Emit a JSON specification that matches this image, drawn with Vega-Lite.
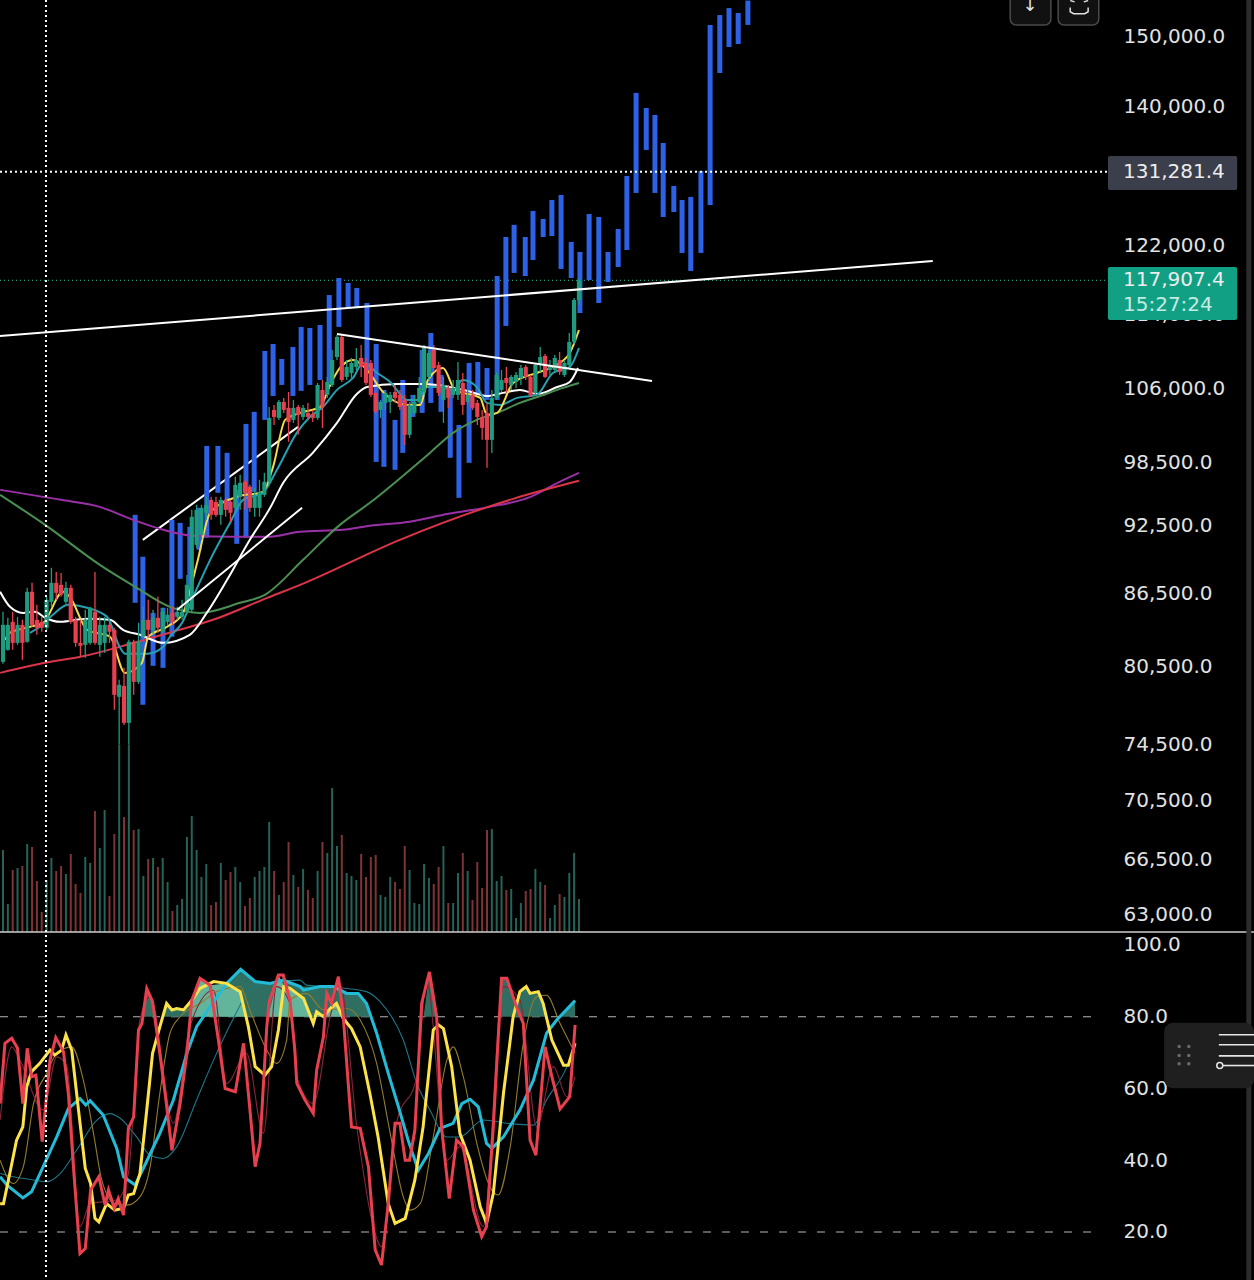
{"$schema":"https://vega.github.io/schema/vega-lite/v6.json","width":1254,"height":1280,"autosize":{"type":"none"},"padding":0,"background":"#000000","config":{"view":{"stroke":null},"axis":{"labelFont":"DejaVu Sans","labelFontSize":20,"labelColor":"#e2e2e2","labelAlign":"left","labelOverlap":false,"labelBound":false,"labelFlush":false}},
"datasets":{
"candles":[
{"i":0,"o":80850,"h":84950,"l":80690,"c":83860,"v":82},{"i":1,"o":81820,"h":84450,"l":81740,"c":83860,"v":28},{"i":2,"o":84110,"h":84950,"l":81820,"c":82380,"v":62},{"i":3,"o":82380,"h":84530,"l":82220,"c":83860,"v":64},{"i":4,"o":83860,"h":84280,"l":81010,"c":82380,"v":66},{"i":5,"o":82470,"h":86990,"l":82380,"c":86650,"v":88},{"i":6,"o":86650,"h":87420,"l":83700,"c":83860,"v":85},{"i":7,"o":84280,"h":85540,"l":83040,"c":83620,"v":51},{"i":8,"o":84110,"h":84530,"l":83290,"c":83620,"v":20},{"i":9,"o":83620,"h":86220,"l":83450,"c":85960,"v":52},
{"i":10,"o":85790,"h":88730,"l":85370,"c":87420,"v":74},{"i":11,"o":87420,"h":88370,"l":85960,"c":86560,"v":61},{"i":12,"o":87250,"h":88280,"l":86220,"c":86390,"v":66},{"i":13,"o":85790,"h":87510,"l":85620,"c":86990,"v":58},{"i":14,"o":86990,"h":87250,"l":83950,"c":84110,"v":78},{"i":15,"o":84280,"h":84530,"l":82060,"c":82380,"v":48},{"i":16,"o":82380,"h":84280,"l":81250,"c":82140,"v":39},{"i":17,"o":82220,"h":85120,"l":81170,"c":84280,"v":75},{"i":18,"o":82380,"h":85370,"l":82220,"c":85290,"v":69},{"i":19,"o":84950,"h":88370,"l":82220,"c":82380,"v":121},
{"i":20,"o":82220,"h":84530,"l":81250,"c":83860,"v":84},{"i":21,"o":82380,"h":84530,"l":81570,"c":83860,"v":122},{"i":22,"o":83860,"h":84110,"l":82380,"c":83290,"v":36},{"i":23,"o":83450,"h":83620,"l":77100,"c":78250,"v":98},{"i":24,"o":78100,"h":79420,"l":74480,"c":79030,"v":187},{"i":25,"o":78950,"h":80370,"l":75960,"c":76110,"v":115},{"i":26,"o":76110,"h":82630,"l":74480,"c":82470,"v":187},{"i":27,"o":82470,"h":82630,"l":78250,"c":79260,"v":102},{"i":28,"o":79260,"h":84030,"l":79100,"c":82470,"v":103},{"i":29,"o":82880,"h":85370,"l":82630,"c":84280,"v":56},
{"i":30,"o":84280,"h":85960,"l":82790,"c":83450,"v":73},{"i":31,"o":83450,"h":85120,"l":83120,"c":84450,"v":74},{"i":32,"o":84450,"h":86220,"l":83200,"c":83620,"v":65},{"i":33,"o":83290,"h":85290,"l":83120,"c":84950,"v":74},{"i":34,"o":84110,"h":85290,"l":83860,"c":84700,"v":50},{"i":35,"o":84860,"h":85370,"l":83860,"c":84110,"v":21},{"i":36,"o":84530,"h":85370,"l":84280,"c":84950,"v":27},{"i":37,"o":84530,"h":85960,"l":84280,"c":84950,"v":33},{"i":38,"o":84950,"h":88110,"l":84780,"c":87250,"v":95},{"i":39,"o":85120,"h":93970,"l":84950,"c":93320,"v":116},
{"i":40,"o":90770,"h":94430,"l":90500,"c":93970,"v":82},{"i":41,"o":91670,"h":94430,"l":91220,"c":94150,"v":55},{"i":42,"o":93690,"h":95180,"l":93040,"c":94430,"v":68},{"i":43,"o":94900,"h":95180,"l":93040,"c":93500,"v":27},{"i":44,"o":94710,"h":95180,"l":93320,"c":93500,"v":30},{"i":45,"o":93500,"h":95180,"l":92580,"c":94900,"v":69},{"i":46,"o":94900,"h":95090,"l":93320,"c":93970,"v":52},{"i":47,"o":94710,"h":94900,"l":92860,"c":93690,"v":60},{"i":48,"o":94150,"h":97090,"l":93970,"c":96320,"v":65},{"i":49,"o":95180,"h":97280,"l":93970,"c":96510,"v":50},
{"i":50,"o":96610,"h":96800,"l":93970,"c":95560,"v":26},{"i":51,"o":96130,"h":96320,"l":93780,"c":94150,"v":34},{"i":52,"o":94150,"h":96030,"l":93320,"c":95180,"v":55},{"i":53,"o":94150,"h":96800,"l":93320,"c":95650,"v":61},{"i":54,"o":95370,"h":97470,"l":95180,"c":96610,"v":65},{"i":55,"o":96610,"h":104030,"l":96320,"c":102910,"v":110},{"i":56,"o":103730,"h":104240,"l":102200,"c":103010,"v":61},{"i":57,"o":102910,"h":104760,"l":102710,"c":104550,"v":37},{"i":58,"o":104550,"h":104970,"l":103420,"c":103730,"v":50},{"i":59,"o":103940,"h":105590,"l":100500,"c":102500,"v":90},
{"i":60,"o":102710,"h":104760,"l":102400,"c":103940,"v":57},{"i":61,"o":104030,"h":104240,"l":101200,"c":103220,"v":45},{"i":62,"o":103010,"h":104240,"l":102710,"c":103940,"v":63},{"i":63,"o":103420,"h":104450,"l":102710,"c":103010,"v":42},{"i":64,"o":103320,"h":103730,"l":102500,"c":102910,"v":34},{"i":65,"o":102910,"h":106530,"l":102710,"c":106320,"v":61},{"i":66,"o":105800,"h":106850,"l":101900,"c":104030,"v":90},{"i":67,"o":105280,"h":107170,"l":104970,"c":106640,"v":79},{"i":68,"o":106320,"h":110060,"l":106110,"c":108980,"v":144},{"i":69,"o":109300,"h":111710,"l":108980,"c":111490,"v":86},
{"i":70,"o":111490,"h":111710,"l":106640,"c":106850,"v":97},{"i":71,"o":107170,"h":108980,"l":106850,"c":108230,"v":59},{"i":72,"o":107590,"h":109200,"l":107060,"c":108660,"v":56},{"i":73,"o":108230,"h":110280,"l":107910,"c":108980,"v":52},{"i":74,"o":109200,"h":110610,"l":107170,"c":108230,"v":78},{"i":75,"o":108660,"h":109200,"l":106320,"c":106530,"v":55},{"i":76,"o":108660,"h":108980,"l":105070,"c":105280,"v":75},{"i":77,"o":105490,"h":105700,"l":103320,"c":103530,"v":77},{"i":78,"o":103730,"h":104760,"l":102910,"c":104550,"v":37},{"i":79,"o":104450,"h":105700,"l":103730,"c":105490,"v":35},
{"i":80,"o":104550,"h":105590,"l":103420,"c":105280,"v":55},{"i":81,"o":105590,"h":106320,"l":104550,"c":104970,"v":50},{"i":82,"o":105280,"h":105800,"l":103730,"c":104030,"v":43},{"i":83,"o":104760,"h":105280,"l":100200,"c":101200,"v":86},{"i":84,"o":101200,"h":104550,"l":100900,"c":104240,"v":62},{"i":85,"o":103420,"h":105280,"l":103220,"c":104550,"v":29},{"i":86,"o":104550,"h":107170,"l":104340,"c":106010,"v":28},{"i":87,"o":105590,"h":110610,"l":105280,"c":110280,"v":68},{"i":88,"o":107170,"h":110060,"l":106850,"c":109740,"v":54},{"i":89,"o":110060,"h":110610,"l":107700,"c":108120,"v":48},
{"i":90,"o":108440,"h":108770,"l":105180,"c":105490,"v":65},{"i":91,"o":104760,"h":107170,"l":102400,"c":106320,"v":86},{"i":92,"o":106010,"h":106320,"l":103940,"c":104970,"v":29},{"i":93,"o":105280,"h":106850,"l":104970,"c":106010,"v":29},{"i":94,"o":105280,"h":108770,"l":104760,"c":106850,"v":59},{"i":95,"o":106530,"h":107590,"l":103220,"c":104240,"v":79},{"i":96,"o":104550,"h":105800,"l":104240,"c":105280,"v":61},{"i":97,"o":105280,"h":105800,"l":103730,"c":103940,"v":32},{"i":98,"o":104450,"h":104760,"l":102200,"c":103010,"v":70},{"i":99,"o":103010,"h":103730,"l":100700,"c":101900,"v":44},
{"i":100,"o":103420,"h":104450,"l":97950,"c":100700,"v":102},{"i":101,"o":100700,"h":105800,"l":99410,"c":104970,"v":103},{"i":102,"o":104970,"h":107700,"l":104760,"c":107380,"v":51},{"i":103,"o":105800,"h":107910,"l":105590,"c":106850,"v":56},{"i":104,"o":107060,"h":108230,"l":105490,"c":106530,"v":42},{"i":105,"o":106320,"h":107380,"l":105800,"c":107170,"v":43},{"i":106,"o":106640,"h":107700,"l":106010,"c":107380,"v":14},{"i":107,"o":107060,"h":108440,"l":106320,"c":108120,"v":29},{"i":108,"o":108230,"h":108440,"l":106850,"c":107170,"v":41},{"i":109,"o":107170,"h":107380,"l":105070,"c":105280,"v":43},
{"i":110,"o":105490,"h":108660,"l":105180,"c":108440,"v":63},{"i":111,"o":108440,"h":110390,"l":107700,"c":109300,"v":50},{"i":112,"o":109410,"h":109630,"l":107060,"c":107170,"v":47},{"i":113,"o":107910,"h":108980,"l":107380,"c":108440,"v":14},{"i":114,"o":107910,"h":109520,"l":107700,"c":109200,"v":27},{"i":115,"o":108980,"h":109850,"l":107380,"c":107700,"v":38},{"i":116,"o":107380,"h":108980,"l":107170,"c":108660,"v":35},{"i":117,"o":108440,"h":111930,"l":108120,"c":110940,"v":59},{"i":118,"o":110940,"h":115870,"l":110720,"c":115640,"v":79},{"i":119,"o":115640,"h":118180,"l":115070,"c":117907.4,"v":33}],
"blue":[
{"i":27.3,"t":93500,"b":85710},{"i":28.9,"t":89700,"b":77480},{"i":31,"t":84860,"b":80530},{"i":33.06,"t":85290,"b":80370},{"i":34.9,"t":93040,"b":82880},{"i":36.6,"t":92760,"b":87770},{"i":38.6,"t":92400,"b":86820},{"i":40.5,"t":94150,"b":90320},{"i":42.1,"t":100100,"b":91400},{"i":44.4,"t":100100,"b":95560},{"i":46.3,"t":99420,"b":93970},{"i":48.3,"t":95840,"b":90860},{"i":50.2,"t":102300,"b":91400},{"i":51.9,"t":103530,"b":95650},{"i":54.1,"t":109950,"b":102710},{"i":55.8,"t":110720,"b":105170},{"i":57.6,"t":109090,"b":106320},{"i":59.9,"t":110390,"b":105170},{"i":61.6,"t":112600,"b":105700},{"i":63.4,"t":112480,"b":106320},{"i":65.5,"t":112820,"b":106850},{"i":67.4,"t":116210,"b":106530},{"i":69.4,"t":118180,"b":112600},{"i":71.3,"t":117600,"b":114840},{"i":73.1,"t":117020,"b":114730},{"i":75.2,"t":115300,"b":107910},{"i":77.1,"t":110720,"b":98530},{"i":78.7,"t":105800,"b":98050},{"i":81,"t":102710,"b":97760},{"i":82.6,"t":106850,"b":99410},{"i":84.7,"t":105280,"b":103010},{"i":86.6,"t":110060,"b":103420},{"i":88.4,"t":111930,"b":104450},{"i":90.5,"t":107380,"b":103530},{"i":92.4,"t":105800,"b":98930},{"i":94.2,"t":102200,"b":95090},{"i":96.3,"t":108660,"b":98440},{"i":98.1,"t":108770,"b":105280},{"i":100,"t":108120,"b":104760},{"i":102.1,"t":118420,"b":104760},{"i":103.9,"t":123080,"b":112710},{"i":105.6,"t":124570,"b":118780},{"i":107.9,"t":123080,"b":118420},{"i":109.5,"t":126290,"b":120310},{"i":111.6,"t":125290,"b":123080},{"i":113.4,"t":127670,"b":123200},{"i":115.3,"t":128300,"b":119250},{"i":117.4,"t":122480,"b":118190},{"i":119.2,"t":121270,"b":114160},{"i":121.1,"t":125910,"b":117950},{"i":123.1,"t":125540,"b":115300},{"i":125,"t":121270,"b":117720},{"i":127.1,"t":124060,"b":119480},{"i":128.9,"t":130740,"b":121510},{"i":130.8,"t":141930,"b":128560},{"i":132.9,"t":139830,"b":134140},{"i":134.7,"t":138870,"b":128560},{"i":136.4,"t":135070,"b":125540},{"i":138.6,"t":129450,"b":126160},{"i":140.3,"t":127670,"b":121150},{"i":142.1,"t":128050,"b":119010},{"i":144.2,"t":131380,"b":121150},{"i":146.1,"t":151800,"b":127040},{"i":148.1,"t":153290,"b":144750},{"i":150,"t":154350,"b":148520},{"i":151.9,"t":153600,"b":148960},{"i":153.9,"t":155500,"b":151800}],
"ma":[
{"s":"purple","i":-0.6,"p":95840},{"s":"purple","i":12,"p":94900},{"s":"purple","i":20,"p":94240},{"s":"purple","i":26.9,"p":93040},{"s":"purple","i":33.1,"p":92130},{"s":"purple","i":39.3,"p":91580},{"s":"purple","i":47.5,"p":91490},{"s":"purple","i":54.6,"p":91490},{"s":"purple","i":61.4,"p":91950},{"s":"purple","i":70.3,"p":92130},{"s":"purple","i":75.8,"p":92490},{"s":"purple","i":84,"p":92860},{"s":"purple","i":92,"p":93600},{"s":"purple","i":100.6,"p":94240},{"s":"purple","i":109,"p":95180},{"s":"purple","i":115,"p":96610},{"s":"purple","i":119,"p":97470},
{"s":"green","i":-0.6,"p":95370},{"s":"green","i":8.7,"p":92580},{"s":"green","i":20,"p":88990},{"s":"green","i":27.3,"p":87080},{"s":"green","i":34.5,"p":85370},{"s":"green","i":40.7,"p":84860},{"s":"green","i":49,"p":85710},{"s":"green","i":54.1,"p":86390},{"s":"green","i":62,"p":89430},{"s":"green","i":69.6,"p":92580},{"s":"green","i":75.8,"p":94620},{"s":"green","i":88.2,"p":99410},{"s":"green","i":93,"p":101400},{"s":"green","i":97.9,"p":102710},{"s":"green","i":102.1,"p":103420},{"s":"green","i":106.8,"p":104450},{"s":"green","i":111,"p":105170},{"s":"green","i":115.7,"p":106010},{"s":"green","i":119,"p":106530},
{"s":"red","i":-0.6,"p":79970},{"s":"red","i":8.7,"p":80770},{"s":"red","i":16,"p":81250},{"s":"red","i":25.6,"p":82220},{"s":"red","i":35.1,"p":83290},{"s":"red","i":43.4,"p":84280},{"s":"red","i":54.6,"p":86130},{"s":"red","i":61.4,"p":87250},{"s":"red","i":82,"p":91220},{"s":"red","i":99.6,"p":94150},{"s":"red","i":105.4,"p":94990},{"s":"red","i":119,"p":96700},
{"s":"white","i":-0.6,"p":86650},{"s":"white","i":1.45,"p":85370},{"s":"white","i":4.1,"p":84860},{"s":"white","i":6.6,"p":84950},{"s":"white","i":8.7,"p":84450},{"s":"white","i":11.8,"p":84110},{"s":"white","i":17.4,"p":84360},{"s":"white","i":22.1,"p":84280},{"s":"white","i":24.8,"p":83450},{"s":"white","i":28.3,"p":83040},{"s":"white","i":33.1,"p":82380},{"s":"white","i":38.6,"p":83040},{"s":"white","i":42.1,"p":84860},{"s":"white","i":46.3,"p":87680},{"s":"white","i":51,"p":91220},{"s":"white","i":55.2,"p":94150},{"s":"white","i":57.9,"p":96510},{"s":"white","i":64,"p":99410},{"s":"white","i":69,"p":102400},{"s":"white","i":73.1,"p":105380},{"s":"white","i":75.2,"p":106110},{"s":"white","i":81.4,"p":106420},{"s":"white","i":86.2,"p":106420},{"s":"white","i":89.7,"p":106320},{"s":"white","i":95.9,"p":105700},{"s":"white","i":100,"p":105170},{"s":"white","i":103.3,"p":105490},{"s":"white","i":106.8,"p":105800},{"s":"white","i":110.3,"p":105380},{"s":"white","i":114.5,"p":106110},{"s":"white","i":117.1,"p":106640},{"s":"white","i":118.8,"p":108120},
{"s":"teal","i":5.6,"p":83200},{"s":"teal","i":7.6,"p":83700},{"s":"teal","i":10.3,"p":84700},{"s":"teal","i":13.4,"p":85540},{"s":"teal","i":17.4,"p":85290},{"s":"teal","i":21.5,"p":84530},{"s":"teal","i":24.2,"p":81980},{"s":"teal","i":25.2,"p":81490},{"s":"teal","i":29.8,"p":81490},{"s":"teal","i":33.1,"p":82060},{"s":"teal","i":34.5,"p":82880},{"s":"teal","i":37,"p":84030},{"s":"teal","i":39.3,"p":86220},{"s":"teal","i":42.8,"p":89430},{"s":"teal","i":46.9,"p":92760},{"s":"teal","i":49.6,"p":94900},{"s":"teal","i":53.7,"p":95560},{"s":"teal","i":56.6,"p":97760},{"s":"teal","i":60.7,"p":101400},{"s":"teal","i":63.4,"p":103010},{"s":"teal","i":66.1,"p":104030},{"s":"teal","i":69,"p":105800},{"s":"teal","i":72.3,"p":107060},{"s":"teal","i":74.4,"p":108660},{"s":"teal","i":77.3,"p":107590},{"s":"teal","i":80,"p":106640},{"s":"teal","i":83.5,"p":104760},{"s":"teal","i":85.5,"p":104760},{"s":"teal","i":87.6,"p":106110},{"s":"teal","i":90.3,"p":106110},{"s":"teal","i":93,"p":105800},{"s":"teal","i":95,"p":106850},{"s":"teal","i":97.9,"p":106110},{"s":"teal","i":100,"p":104450},{"s":"teal","i":102.7,"p":104240},{"s":"teal","i":106.2,"p":104970},{"s":"teal","i":110.3,"p":105280},{"s":"teal","i":113.6,"p":107590},{"s":"teal","i":117.1,"p":108230},{"s":"teal","i":119,"p":110280},
{"s":"yellow","i":0.4,"p":82630},{"s":"yellow","i":1.4,"p":83200},{"s":"yellow","i":5.6,"p":83700},{"s":"yellow","i":8.3,"p":84030},{"s":"yellow","i":12.4,"p":86650},{"s":"yellow","i":13.8,"p":86220},{"s":"yellow","i":17.4,"p":83450},{"s":"yellow","i":22.1,"p":82880},{"s":"yellow","i":25.2,"p":79970},{"s":"yellow","i":28.7,"p":80770},{"s":"yellow","i":30,"p":82880},{"s":"yellow","i":33.9,"p":83700},{"s":"yellow","i":37.2,"p":84860},{"s":"yellow","i":40.1,"p":89160},{"s":"yellow","i":42.8,"p":93690},{"s":"yellow","i":48.3,"p":95180},{"s":"yellow","i":53.7,"p":95650},{"s":"yellow","i":55.8,"p":98050},{"s":"yellow","i":58.3,"p":102710},{"s":"yellow","i":61.4,"p":103420},{"s":"yellow","i":65.5,"p":104030},{"s":"yellow","i":67.6,"p":106320},{"s":"yellow","i":69.6,"p":108120},{"s":"yellow","i":72.3,"p":108980},{"s":"yellow","i":75.2,"p":107910},{"s":"yellow","i":78.5,"p":105590},{"s":"yellow","i":83.5,"p":104240},{"s":"yellow","i":86.2,"p":104240},{"s":"yellow","i":87.8,"p":106850},{"s":"yellow","i":90.9,"p":108120},{"s":"yellow","i":93.4,"p":105800},{"s":"yellow","i":98.6,"p":104970},{"s":"yellow","i":100,"p":103220},{"s":"yellow","i":102.1,"p":103420},{"s":"yellow","i":105.4,"p":106530},{"s":"yellow","i":110.3,"p":107590},{"s":"yellow","i":113.6,"p":108230},{"s":"yellow","i":117.1,"p":109740},{"s":"yellow","i":119,"p":112260}],
"channel":[{"i":28.9,"p":91220},{"i":60.95,"p":102000}],
"trend":[{"s":"a","i":-0.62,"p":111600},{"s":"a","i":192.1,"p":120190},{"s":"b","i":69,"p":111820},{"s":"b","i":134.1,"p":106740},{"s":"d","i":36,"p":85120},{"s":"d","i":61.8,"p":94160}],
"levels":[{"p":131281.4,"i":-0.62,"e":228.3}],
"live":[{"p":117907.4,"i":-0.62,"e":228.3}],
"tagGrey":[{"i":228.3,"e":255,"t":133350,"b":128940}],
"tagGreen":[{"i":228.3,"e":255,"t":119480,"b":113380}],
"tagText":[{"i":231.4,"p":131281.4,"t":"131,281.4"},{"i":231.4,"p":117907.4,"t":"117,907.4"}],
"tagTime":[{"i":231.4,"p":115070,"t":"15:27:24"}],
"buttons":[{"i":208.1,"e":216.5,"t":156500,"b":151800},{"i":218,"e":226.4,"t":156500,"b":151800}],
"glyphArrow":[{"i":212.2,"p":154700,"t":"↓"}],
"glyphFrame":[{"s":"a","i":220.5,"p":154450},{"s":"a","i":220.5,"p":153800},{"s":"a","i":221.2,"p":153500},{"s":"a","i":223.5,"p":153500},{"s":"a","i":224.2,"p":153800},{"s":"a","i":224.2,"p":154450},{"s":"b","i":220.5,"p":155500},{"s":"b","i":221.4,"p":155300},{"s":"c","i":223.3,"p":155300},{"s":"c","i":224.2,"p":155500}],
"edge":[{"t":127670,"b":125000,"k":"g"},{"t":121510,"b":118890,"k":"g"},{"t":115640,"b":112260,"k":"g"},{"t":104240,"b":102200,"k":"r"},{"t":92580,"b":91220,"k":"o"},{"t":88990,"b":87250,"k":"r"},{"t":80610,"b":78640,"k":"o"}],
"fillDark":[{"b":"a","i":33.2,"v":80},{"b":"a","i":33.8,"v":83.7},{"b":"a","i":34.9,"v":81.9},{"b":"a","i":35.9,"v":82.3},{"b":"a","i":37.3,"v":81.9},{"b":"a","i":39,"v":84.6},{"b":"a","i":41,"v":87},{"b":"a","i":46.2,"v":89.3},{"b":"a","i":49.1,"v":93.2},{"b":"a","i":52.1,"v":89.8},{"b":"a","i":55.2,"v":89.3},{"b":"a","i":57.9,"v":90.2},{"b":"a","i":61.4,"v":88.4},{"b":"a","i":65.5,"v":88.4},{"b":"a","i":68.3,"v":88.4},{"b":"a","i":71,"v":86.5},{"b":"a","i":73.4,"v":86.5},{"b":"a","i":75.1,"v":83.7},{"b":"a","i":76,"v":80},
{"b":"b","i":102.7,"v":80},{"b":"b","i":103,"v":90.7},{"b":"b","i":104.1,"v":90.7},{"b":"b","i":106.1,"v":82.8},{"b":"b","i":106.8,"v":87},{"b":"b","i":108.1,"v":88.4},{"b":"b","i":108.9,"v":86.5},{"b":"b","i":110.6,"v":87},{"b":"b","i":111.6,"v":83.7},{"b":"b","i":112.5,"v":80},
{"b":"c","i":114.8,"v":80},{"b":"c","i":118.2,"v":84.5},
{"b":"d","i":86.9,"v":80},{"b":"d","i":88.1,"v":92.5},{"b":"d","i":89.6,"v":80},
{"b":"e","i":28.7,"v":80},{"b":"e","i":29.7,"v":87.9},{"b":"e","i":30.9,"v":84.2},{"b":"e","i":31.8,"v":80}],
"fillLight":[{"b":"a","i":38.5,"v":80},{"b":"a","i":39,"v":84.6},{"b":"a","i":40.7,"v":90.7},{"b":"a","i":42.8,"v":88.8},{"b":"a","i":46.2,"v":89.3},{"b":"a","i":49,"v":87},{"b":"a","i":50.3,"v":80},
{"b":"b","i":54.8,"v":80},{"b":"b","i":56.9,"v":91.6},{"b":"b","i":57.9,"v":89},{"b":"b","i":60.7,"v":86.5},{"b":"b","i":62.1,"v":85.1},{"b":"b","i":64,"v":80},
{"b":"c","i":64.4,"v":80},{"b":"c","i":64.8,"v":81.4},{"b":"c","i":66.2,"v":80},
{"b":"d","i":66.7,"v":80},{"b":"d","i":67.9,"v":83.7},{"b":"d","i":68.9,"v":83.7},{"b":"d","i":70.3,"v":80}],
"thin":[
{"s":"slow","i":-0.6,"v":36.3},{"s":"slow","i":2.1,"v":35.4},{"s":"slow","i":6.3,"v":34.5},{"s":"slow","i":9,"v":34},{"s":"slow","i":11.8,"v":36.3},{"s":"slow","i":15.2,"v":42.8},{"s":"slow","i":19.4,"v":51.2},{"s":"slow","i":22.1,"v":53},{"s":"slow","i":24.2,"v":51.7},{"s":"slow","i":27.6,"v":46.5},{"s":"slow","i":30.4,"v":41.4},{"s":"slow","i":33.1,"v":40.5},{"s":"slow","i":35.9,"v":43.8},{"s":"slow","i":40,"v":56.8},{"s":"slow","i":43.5,"v":67.9},{"s":"slow","i":47.6,"v":79.5},{"s":"slow","i":51,"v":87.4},{"s":"slow","i":54.5,"v":89.3},{"s":"slow","i":61.4,"v":90.2},{"s":"slow","i":62.7,"v":88.8},{"s":"slow","i":66.9,"v":88.4},{"s":"slow","i":75.1,"v":87},{"s":"slow","i":77.9,"v":84.2},{"s":"slow","i":82.7,"v":73.5},{"s":"slow","i":85.5,"v":61.4},{"s":"slow","i":88.2,"v":54},{"s":"slow","i":91.7,"v":46.5},{"s":"slow","i":94.4,"v":46.5},{"s":"slow","i":99.2,"v":51.2},{"s":"slow","i":104.1,"v":50.3},{"s":"slow","i":109.6,"v":49.8},{"s":"slow","i":112.3,"v":56.8},{"s":"slow","i":116.5,"v":66.1},{"s":"slow","i":118.2,"v":72.6},
{"s":"kma","i":-0.6,"v":40},{"s":"kma","i":2.1,"v":33.5},{"s":"kma","i":4.2,"v":38.2},{"s":"kma","i":6.3,"v":55.8},{"s":"kma","i":9,"v":64.2},{"s":"kma","i":11.1,"v":69.8},{"s":"kma","i":14.2,"v":71.6},{"s":"kma","i":16.6,"v":62.3},{"s":"kma","i":18.7,"v":47.5},{"s":"kma","i":20.4,"v":34.5},{"s":"kma","i":23.1,"v":27.9},{"s":"kma","i":25.6,"v":27.5},{"s":"kma","i":28.3,"v":29.8},{"s":"kma","i":30.4,"v":38.2},{"s":"kma","i":32.4,"v":58.6},{"s":"kma","i":34.5,"v":75.4},{"s":"kma","i":36.6,"v":80},{"s":"kma","i":40.7,"v":83.7},{"s":"kma","i":44.8,"v":87.4},{"s":"kma","i":49,"v":88.4},{"s":"kma","i":51,"v":81.9},{"s":"kma","i":54.5,"v":70.7},{"s":"kma","i":56.5,"v":67},{"s":"kma","i":58.6,"v":73.5},{"s":"kma","i":59.3,"v":84.6},{"s":"kma","i":62.7,"v":86.5},{"s":"kma","i":66.2,"v":81.9},{"s":"kma","i":71,"v":82.3},{"s":"kma","i":73.8,"v":79.1},{"s":"kma","i":77.2,"v":67},{"s":"kma","i":80,"v":47.5},{"s":"kma","i":82.7,"v":29.8},{"s":"kma","i":84.1,"v":26.1},{"s":"kma","i":86.2,"v":27.9},{"s":"kma","i":88.9,"v":46.5},{"s":"kma","i":91.7,"v":67.9},{"s":"kma","i":93,"v":71.6},{"s":"kma","i":95.1,"v":63.3},{"s":"kma","i":97.9,"v":44.7},{"s":"kma","i":100.6,"v":32.6},{"s":"kma","i":102.3,"v":30.3},{"s":"kma","i":104.8,"v":43.8},{"s":"kma","i":107.5,"v":72.6},{"s":"kma","i":110.3,"v":85.6},{"s":"kma","i":112.3,"v":86},{"s":"kma","i":115.1,"v":78.1},{"s":"kma","i":118.2,"v":69.8},
{"s":"dma","i":-0.6,"v":51.2},{"s":"dma","i":1.8,"v":71.6},{"s":"dma","i":3.5,"v":67.9},{"s":"dma","i":8.3,"v":54},{"s":"dma","i":11.1,"v":68.8},{"s":"dma","i":13.2,"v":66.1},{"s":"dma","i":15.9,"v":21.5},{"s":"dma","i":18,"v":27.9},{"s":"dma","i":23.5,"v":28.9},{"s":"dma","i":25.9,"v":36.3},{"s":"dma","i":28.3,"v":79.1},{"s":"dma","i":30.4,"v":85.6},{"s":"dma","i":35.2,"v":50.3},{"s":"dma","i":38.6,"v":77.2},{"s":"dma","i":43.5,"v":87.4},{"s":"dma","i":46.2,"v":61.4},{"s":"dma","i":50.3,"v":69.8},{"s":"dma","i":53.8,"v":47.5},{"s":"dma","i":56.5,"v":88.4},{"s":"dma","i":59.3,"v":83.7},{"s":"dma","i":60.7,"v":63.3},{"s":"dma","i":64.1,"v":55.8},{"s":"dma","i":67.6,"v":80},{"s":"dma","i":69.6,"v":89.3},{"s":"dma","i":73.1,"v":49.3},{"s":"dma","i":76.5,"v":21.5},{"s":"dma","i":78.2,"v":15.9},{"s":"dma","i":81.3,"v":50.3},{"s":"dma","i":85.5,"v":63.3},{"s":"dma","i":87.5,"v":90.2},{"s":"dma","i":91.7,"v":40},{"s":"dma","i":94.4,"v":43.8},{"s":"dma","i":99.2,"v":21.5},{"s":"dma","i":103.4,"v":88.4},{"s":"dma","i":106.8,"v":84.6},{"s":"dma","i":110.3,"v":49.3},{"s":"dma","i":113.7,"v":66.1},{"s":"dma","i":116.5,"v":57.7},{"s":"dma","i":118.2,"v":63.3}],
"thick":[
{"s":"rsi","i":-0.6,"v":35.4},{"s":"rsi","i":0.8,"v":33.1},{"s":"rsi","i":4.1,"v":29.5},{"s":"rsi","i":5.9,"v":31.2},{"s":"rsi","i":8.3,"v":38.2},{"s":"rsi","i":11.1,"v":46.5},{"s":"rsi","i":13.5,"v":54.4},{"s":"rsi","i":15.9,"v":57.2},{"s":"rsi","i":17.1,"v":55.4},{"s":"rsi","i":18,"v":56.6},{"s":"rsi","i":20.7,"v":52.6},{"s":"rsi","i":23.5,"v":43.3},{"s":"rsi","i":24.9,"v":35.4},{"s":"rsi","i":27.3,"v":33.1},{"s":"rsi","i":29.3,"v":38.6},{"s":"rsi","i":32.4,"v":47.5},{"s":"rsi","i":35.2,"v":56.8},{"s":"rsi","i":38,"v":69.8},{"s":"rsi","i":40,"v":77.2},{"s":"rsi","i":42.8,"v":82.8},{"s":"rsi","i":46.2,"v":89.3},{"s":"rsi","i":49.1,"v":93.2},{"s":"rsi","i":52.1,"v":89.8},{"s":"rsi","i":55.2,"v":89.3},{"s":"rsi","i":57.9,"v":90.2},{"s":"rsi","i":61.4,"v":88.4},{"s":"rsi","i":62.1,"v":87.4},{"s":"rsi","i":65.5,"v":88.4},{"s":"rsi","i":68.3,"v":88.4},{"s":"rsi","i":71,"v":86.5},{"s":"rsi","i":73.4,"v":86.5},{"s":"rsi","i":75.1,"v":83.7},{"s":"rsi","i":77.2,"v":75.4},{"s":"rsi","i":79.6,"v":64.2},{"s":"rsi","i":81.7,"v":54.9},{"s":"rsi","i":83.7,"v":45.6},{"s":"rsi","i":85.8,"v":37.2},{"s":"rsi","i":87.9,"v":41.9},{"s":"rsi","i":90.3,"v":48.9},{"s":"rsi","i":93,"v":50.3},{"s":"rsi","i":94.8,"v":55.8},{"s":"rsi","i":96.5,"v":57},{"s":"rsi","i":98.2,"v":54.9},{"s":"rsi","i":99.9,"v":44.7},{"s":"rsi","i":101,"v":43.3},{"s":"rsi","i":103.4,"v":46.5},{"s":"rsi","i":106.8,"v":54},{"s":"rsi","i":109.6,"v":62.3},{"s":"rsi","i":112.3,"v":75.4},{"s":"rsi","i":114.4,"v":79.1},{"s":"rsi","i":118.2,"v":84.5},
{"s":"k","i":-0.6,"v":27.9},{"s":"k","i":0.1,"v":27.9},{"s":"k","i":1.4,"v":36.3},{"s":"k","i":2.8,"v":45.6},{"s":"k","i":4.1,"v":49.3},{"s":"k","i":4.9,"v":60.5},{"s":"k","i":5.9,"v":64.7},{"s":"k","i":7.6,"v":67},{"s":"k","i":9.7,"v":70.7},{"s":"k","i":10.7,"v":69.3},{"s":"k","i":12.1,"v":70.7},{"s":"k","i":13,"v":74.9},{"s":"k","i":14.2,"v":70.7},{"s":"k","i":15.6,"v":54},{"s":"k","i":17,"v":37.7},{"s":"k","i":18.1,"v":33.5},{"s":"k","i":19,"v":23.8},{"s":"k","i":19.8,"v":22.8},{"s":"k","i":21.4,"v":27.9},{"s":"k","i":23.1,"v":26.1},{"s":"k","i":24.9,"v":26.6},{"s":"k","i":25.9,"v":30.3},{"s":"k","i":27,"v":30.7},{"s":"k","i":28.3,"v":36.3},{"s":"k","i":29.7,"v":54},{"s":"k","i":30.9,"v":69.8},{"s":"k","i":32.4,"v":77.2},{"s":"k","i":33.8,"v":83.7},{"s":"k","i":34.9,"v":81.9},{"s":"k","i":35.9,"v":82.3},{"s":"k","i":37.3,"v":81.9},{"s":"k","i":39,"v":84.6},{"s":"k","i":40.7,"v":87.9},{"s":"k","i":43.5,"v":89.8},{"s":"k","i":46.2,"v":89.3},{"s":"k","i":49,"v":87},{"s":"k","i":50.7,"v":77.2},{"s":"k","i":52.1,"v":66.1},{"s":"k","i":54.1,"v":63.7},{"s":"k","i":55.5,"v":66.1},{"s":"k","i":56.9,"v":76.3},{"s":"k","i":58,"v":88.4},{"s":"k","i":59.3,"v":87.9},{"s":"k","i":60.7,"v":86.5},{"s":"k","i":62.1,"v":85.1},{"s":"k","i":64.1,"v":78.1},{"s":"k","i":64.8,"v":81.4},{"s":"k","i":66.2,"v":80},{"s":"k","i":67.6,"v":82.3},{"s":"k","i":68.9,"v":83.7},{"s":"k","i":70.3,"v":79.5},{"s":"k","i":72,"v":76.7},{"s":"k","i":73.8,"v":71.6},{"s":"k","i":75.8,"v":58.6},{"s":"k","i":77.5,"v":46.5},{"s":"k","i":79.6,"v":27.9},{"s":"k","i":81,"v":22.4},{"s":"k","i":83.1,"v":23.8},{"s":"k","i":85.1,"v":34.5},{"s":"k","i":86.8,"v":49.3},{"s":"k","i":88.9,"v":76.3},{"s":"k","i":90,"v":77.7},{"s":"k","i":91,"v":76.7},{"s":"k","i":92.7,"v":66.1},{"s":"k","i":94.4,"v":47.5},{"s":"k","i":96.5,"v":40},{"s":"k","i":98.6,"v":27},{"s":"k","i":99.9,"v":22.4},{"s":"k","i":101.3,"v":30.7},{"s":"k","i":103.4,"v":58.6},{"s":"k","i":105.4,"v":80},{"s":"k","i":106.8,"v":87},{"s":"k","i":108.1,"v":88.4},{"s":"k","i":108.9,"v":86.5},{"s":"k","i":110.6,"v":87},{"s":"k","i":111.6,"v":83.7},{"s":"k","i":113.4,"v":73.5},{"s":"k","i":115.8,"v":66.5},{"s":"k","i":116.8,"v":66.5},{"s":"k","i":118.2,"v":72.6},
{"s":"d","i":-0.6,"v":55.8},{"s":"d","i":0.4,"v":72.6},{"s":"d","i":1.8,"v":74},{"s":"d","i":3,"v":71.2},{"s":"d","i":4.1,"v":55.8},{"s":"d","i":5,"v":71.2},{"s":"d","i":5.9,"v":63.3},{"s":"d","i":6.8,"v":63.7},{"s":"d","i":8.1,"v":45.2},{"s":"d","i":9.7,"v":67.9},{"s":"d","i":10.9,"v":74.2},{"s":"d","i":12.5,"v":70.2},{"s":"d","i":13.5,"v":58.6},{"s":"d","i":14.7,"v":35.4},{"s":"d","i":15.9,"v":14},{"s":"d","i":17,"v":15.4},{"s":"d","i":18.1,"v":31.7},{"s":"d","i":19.8,"v":35.4},{"s":"d","i":21.1,"v":27.5},{"s":"d","i":21.8,"v":31.7},{"s":"d","i":23,"v":26.6},{"s":"d","i":23.8,"v":29.3},{"s":"d","i":24.9,"v":24.7},{"s":"d","i":25.9,"v":48.9},{"s":"d","i":27,"v":52.1},{"s":"d","i":28,"v":76.3},{"s":"d","i":28.7,"v":78.1},{"s":"d","i":29.7,"v":87.9},{"s":"d","i":30.9,"v":84.2},{"s":"d","i":32.4,"v":69.8},{"s":"d","i":33.5,"v":58.6},{"s":"d","i":34.9,"v":42.8},{"s":"d","i":36.6,"v":55.8},{"s":"d","i":38,"v":69.8},{"s":"d","i":39,"v":84.6},{"s":"d","i":40.7,"v":90.7},{"s":"d","i":42.8,"v":88.8},{"s":"d","i":44.5,"v":73.5},{"s":"d","i":45.9,"v":60},{"s":"d","i":48,"v":59.1},{"s":"d","i":49.7,"v":72.6},{"s":"d","i":50.9,"v":55.8},{"s":"d","i":52.1,"v":38.2},{"s":"d","i":53.1,"v":44.7},{"s":"d","i":54.5,"v":77.2},{"s":"d","i":55,"v":84.2},{"s":"d","i":56.9,"v":91.6},{"s":"d","i":57.9,"v":91.6},{"s":"d","i":59.3,"v":84.6},{"s":"d","i":60.3,"v":70.7},{"s":"d","i":60.7,"v":61.4},{"s":"d","i":62.4,"v":56.8},{"s":"d","i":64.1,"v":53.1},{"s":"d","i":64.8,"v":65.1},{"s":"d","i":66.2,"v":74.4},{"s":"d","i":66.9,"v":86.5},{"s":"d","i":67.9,"v":83.7},{"s":"d","i":69.3,"v":91.2},{"s":"d","i":70.3,"v":80},{"s":"d","i":72,"v":49.3},{"s":"d","i":73.8,"v":48.9},{"s":"d","i":75.5,"v":38.2},{"s":"d","i":76.9,"v":15},{"s":"d","i":78.2,"v":10.8},{"s":"d","i":79.6,"v":28},{"s":"d","i":81,"v":50.3},{"s":"d","i":82,"v":50.3},{"s":"d","i":83.1,"v":40},{"s":"d","i":84,"v":40},{"s":"d","i":85.1,"v":48.4},{"s":"d","i":86.5,"v":83.7},{"s":"d","i":88.1,"v":92.5},{"s":"d","i":89.6,"v":80},{"s":"d","i":90.6,"v":49.3},{"s":"d","i":92.2,"v":29.3},{"s":"d","i":93.7,"v":45.6},{"s":"d","i":95.1,"v":43.8},{"s":"d","i":97.2,"v":26.1},{"s":"d","i":98.9,"v":18.7},{"s":"d","i":99.9,"v":21.5},{"s":"d","i":101.3,"v":49.3},{"s":"d","i":103,"v":90.7},{"s":"d","i":104.1,"v":90.7},{"s":"d","i":106.1,"v":82.8},{"s":"d","i":107.5,"v":78.1},{"s":"d","i":108.9,"v":45.6},{"s":"d","i":110.1,"v":41.4},{"s":"d","i":112,"v":71.6},{"s":"d","i":113.4,"v":63.3},{"s":"d","i":115.1,"v":54.3},{"s":"d","i":117.1,"v":57.7},{"s":"d","i":118.2,"v":77.7}],
"bands":[{"v":80,"i":-0.62,"e":226.7},{"v":20,"i":-0.62,"e":226.7}],
"panel":[{"i":239.9,"e":258.47,"t":78.3,"b":60.1}],
"panelDots":[{"i":243,"v":71.7},{"i":245,"v":71.7},{"i":243,"v":69.2},{"i":245,"v":69.2},{"i":243,"v":66.9},{"i":245,"v":66.9}],
"panelLines":[{"i":251.2,"e":258.47,"v":75},{"i":251.2,"e":258.47,"v":72.2},{"i":251.2,"e":258.47,"v":69.1},{"i":252,"e":258.47,"v":66.4}],
"panelRing":[{"i":251.4,"v":66.4}],
"separator":[{"i":-0.62,"e":258.47,"v":0}],
"strip":[{"i":257.4,"v":0}],
"cross":[{"i":8.88}]
},
"encoding":{"x":{"field":"i","type":"quantitative","axis":null,"scale":{"domain":[-0.62,258.47],"nice":false,"zero":false}}},
"resolve":{"scale":{"y":"independent","color":"independent"},"axis":{"y":"independent"}},
"layer":[
{"layer":[
{"data":{"name":"candles"},"mark":{"type":"rule","strokeWidth":2},"encoding":{"y":{"field":"v","type":"quantitative","axis":null,"scale":{"domain":[-348,932],"nice":false,"zero":false}},"y2":{"datum":0},"color":{"condition":{"test":"datum.c>=datum.o","value":"#256358"},"value":"#7e3434"}}},
{"data":{"name":"separator"},"mark":{"type":"rule","color":"#cfcfcf","strokeWidth":1.3},"encoding":{"x2":{"field":"e"},"y":{"field":"v","type":"quantitative","axis":null,"scale":{"domain":[-348,932],"nice":false,"zero":false}}}}
]},
{"layer":[
{"data":{"name":"live"},"mark":{"type":"rule","color":"#1f9c7f","strokeWidth":1.2,"strokeDash":[1,3]},"encoding":{"y":{"field":"p","type":"quantitative","axis":{"orient":"right","offset":-131,"title":null,"domain":false,"ticks":false,"grid":false,"labelPadding":0,"values":[150000,140000,130000,122000,114000,106000,98500,92500,86500,80500,74500,70500,66500,63000],"format":",.1f"},"scale":{"type":"log","domain":[43866,155590],"nice":false}},"x2":{"field":"e"}}},
{"data":{"name":"channel"},"mark":{"type":"line","color":"#ffffff","strokeWidth":2},"encoding":{"y":{"field":"p","type":"quantitative","scale":{"type":"log","domain":[43866,155590],"nice":false}}}},
{"data":{"name":"blue"},"mark":{"type":"rule","color":"#2e62e6","strokeWidth":5},"encoding":{"y":{"field":"t","type":"quantitative","scale":{"type":"log","domain":[43866,155590],"nice":false}},"y2":{"field":"b"}}},
{"data":{"name":"ma"},"mark":{"type":"line","strokeWidth":2,"interpolate":"monotone"},"encoding":{"y":{"field":"p","type":"quantitative","scale":{"type":"log","domain":[43866,155590],"nice":false}},"detail":{"field":"s"},"order":{"field":"i"},"color":{"field":"s","type":"nominal","legend":null,"scale":{"domain":["purple","green","red","white","teal","yellow"],"range":["#9a30a8","#4a8f52","#dc3448","#ffffff","#25a0b4","#f5dc4b"]}}}},
{"data":{"name":"candles"},"mark":{"type":"rule","strokeWidth":1.3},"encoding":{"y":{"field":"h","type":"quantitative","scale":{"type":"log","domain":[43866,155590],"nice":false}},"y2":{"field":"l"},"color":{"condition":{"test":"datum.c>=datum.o","value":"#1f9c7f"},"value":"#e8404f"}}},
{"data":{"name":"candles"},"mark":{"type":"rule","strokeWidth":4.2},"encoding":{"y":{"field":"o","type":"quantitative","scale":{"type":"log","domain":[43866,155590],"nice":false}},"y2":{"field":"c"},"color":{"condition":{"test":"datum.c>=datum.o","value":"#1f9c7f"},"value":"#e8404f"}}},
{"data":{"name":"trend"},"mark":{"type":"line","color":"#ffffff","strokeWidth":2},"encoding":{"y":{"field":"p","type":"quantitative","scale":{"type":"log","domain":[43866,155590],"nice":false}},"detail":{"field":"s"}}},
{"data":{"name":"levels"},"mark":{"type":"rule","color":"#ffffff","strokeWidth":2,"strokeDash":[2,3]},"encoding":{"y":{"field":"p","type":"quantitative","scale":{"type":"log","domain":[43866,155590],"nice":false}},"x2":{"field":"e"}}},
{"data":{"name":"tagGrey"},"mark":{"type":"rect","color":"#3b3e4b","cornerRadius":2},"encoding":{"x2":{"field":"e"},"y":{"field":"t","type":"quantitative","scale":{"type":"log","domain":[43866,155590],"nice":false}},"y2":{"field":"b"}}},
{"data":{"name":"tagGreen"},"mark":{"type":"rect","color":"#12a085","cornerRadius":2},"encoding":{"x2":{"field":"e"},"y":{"field":"t","type":"quantitative","scale":{"type":"log","domain":[43866,155590],"nice":false}},"y2":{"field":"b"}}},
{"data":{"name":"tagText"},"mark":{"type":"text","align":"left","baseline":"middle","font":"DejaVu Sans","fontSize":20,"color":"#ececec"},"encoding":{"y":{"field":"p","type":"quantitative","scale":{"type":"log","domain":[43866,155590],"nice":false}},"text":{"field":"t"}}},
{"data":{"name":"tagTime"},"mark":{"type":"text","align":"left","baseline":"middle","font":"DejaVu Sans","fontSize":20,"color":"#c4ebe2"},"encoding":{"y":{"field":"p","type":"quantitative","scale":{"type":"log","domain":[43866,155590],"nice":false}},"text":{"field":"t"}}},
{"data":{"name":"buttons"},"mark":{"type":"rect","color":"#111111","stroke":"#4a4a4a","strokeWidth":1.5,"cornerRadius":6},"encoding":{"x2":{"field":"e"},"y":{"field":"t","type":"quantitative","scale":{"type":"log","domain":[43866,155590],"nice":false}},"y2":{"field":"b"}}},
{"data":{"name":"glyphArrow"},"mark":{"type":"text","align":"center","baseline":"middle","font":"DejaVu Sans","fontSize":18,"color":"#e0e0e0"},"encoding":{"y":{"field":"p","type":"quantitative","scale":{"type":"log","domain":[43866,155590],"nice":false}},"text":{"field":"t"}}},
{"data":{"name":"glyphFrame"},"mark":{"type":"line","color":"#e0e0e0","strokeWidth":1.5},"encoding":{"y":{"field":"p","type":"quantitative","scale":{"type":"log","domain":[43866,155590],"nice":false}},"detail":{"field":"s"},"order":{"field":"i"}}},
{"data":{"name":"edge"},"mark":{"type":"rule","strokeWidth":2},"encoding":{"x":{"datum":258.2},"y":{"field":"t","type":"quantitative","scale":{"type":"log","domain":[43866,155590],"nice":false}},"y2":{"field":"b"},"color":{"field":"k","type":"nominal","legend":null,"scale":{"domain":["g","r","o"],"range":["#5fae63","#c8404a","#d9963a"]}}}}
]},
{"layer":[
{"data":{"name":"bands"},"mark":{"type":"rule","color":"#b5b5b5","strokeWidth":1.2,"strokeDash":[8,11]},"encoding":{"y":{"field":"v","type":"quantitative","axis":{"orient":"right","offset":-131,"title":null,"domain":false,"ticks":false,"grid":false,"labelPadding":0,"values":[100,80,60,40,20],"format":".1f"},"scale":{"domain":[6.62,363.4],"nice":false,"zero":false}},"x2":{"field":"e"}}},
{"data":{"name":"fillDark"},"mark":{"type":"area","color":"#2f6f62"},"encoding":{"y":{"field":"v","type":"quantitative","stack":null,"scale":{"domain":[6.62,363.4],"nice":false,"zero":false}},"y2":{"datum":80},"detail":{"field":"b"}}},
{"data":{"name":"fillLight"},"mark":{"type":"area","color":"#62b49b"},"encoding":{"y":{"field":"v","type":"quantitative","stack":null,"scale":{"domain":[6.62,363.4],"nice":false,"zero":false}},"y2":{"datum":80},"detail":{"field":"b"}}},
{"data":{"name":"thin"},"mark":{"type":"line","strokeWidth":1.1,"interpolate":"monotone"},"encoding":{"y":{"field":"v","type":"quantitative","scale":{"domain":[6.62,363.4],"nice":false,"zero":false}},"detail":{"field":"s"},"color":{"field":"s","type":"nominal","legend":null,"scale":{"domain":["slow","kma","dma","rsi","k","d"],"range":["#1c7788","#927c2e","#84263a","#23bcd8","#fde24a","#e8404f"]}}}},
{"data":{"name":"thick"},"mark":{"type":"line","strokeWidth":3},"encoding":{"y":{"field":"v","type":"quantitative","scale":{"domain":[6.62,363.4],"nice":false,"zero":false}},"detail":{"field":"s"},"color":{"field":"s","type":"nominal","legend":null,"scale":{"domain":["slow","kma","dma","rsi","k","d"],"range":["#1c7788","#927c2e","#84263a","#23bcd8","#fde24a","#e8404f"]}}}},
{"data":{"name":"strip"},"mark":{"type":"rule","color":"#2c2c2c","strokeWidth":5},"encoding":{"y":{"value":0},"y2":{"value":1280}}},
{"data":{"name":"panel"},"mark":{"type":"rect","color":"#1f1f1f","cornerRadius":9},"encoding":{"x2":{"field":"e"},"y":{"field":"t","type":"quantitative","scale":{"domain":[6.62,363.4],"nice":false,"zero":false}},"y2":{"field":"b"}}},
{"data":{"name":"panelDots"},"mark":{"type":"point","filled":true,"color":"#6a6a6a","size":12,"opacity":1},"encoding":{"y":{"field":"v","type":"quantitative","scale":{"domain":[6.62,363.4],"nice":false,"zero":false}}}},
{"data":{"name":"panelLines"},"mark":{"type":"rule","color":"#e6e6e6","strokeWidth":1.6},"encoding":{"y":{"field":"v","type":"quantitative","scale":{"domain":[6.62,363.4],"nice":false,"zero":false}},"x2":{"field":"e"}}},
{"data":{"name":"panelRing"},"mark":{"type":"point","color":"#e6e6e6","filled":true,"fill":"#1f1f1f","stroke":"#e6e6e6","strokeWidth":1.5,"size":36,"opacity":1},"encoding":{"y":{"field":"v","type":"quantitative","scale":{"domain":[6.62,363.4],"nice":false,"zero":false}}}},
{"data":{"name":"cross"},"mark":{"type":"rule","color":"#ffffff","strokeWidth":2,"strokeDash":[2,3]},"encoding":{"y":{"value":0},"y2":{"value":1280}}}
]}
]}
